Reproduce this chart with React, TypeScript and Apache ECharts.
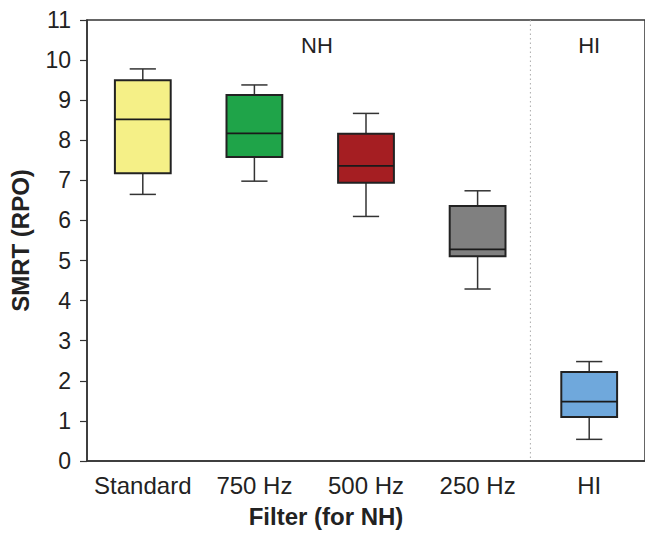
import React, { useEffect, useRef } from "react";
import * as echarts from "echarts";

const categories = ["Standard", "750 Hz", "500 Hz", "250 Hz", "HI"];
const whiskerLow = [6.65, 6.98, 6.1, 4.29, 0.54];
const quartile1 = [7.18, 7.58, 6.94, 5.11, 1.1];
const medians = [8.52, 8.17, 7.36, 5.28, 1.48];
const quartile3 = [9.5, 9.13, 8.16, 6.36, 2.22];
const whiskerHigh = [9.78, 9.38, 8.67, 6.74, 2.48];
const yTicks = [0, 1, 2, 3, 4, 5, 6, 7, 8, 9, 10, 11];

const boxColors = ["#f5f087", "#1fa449", "#a51e22", "#808080", "#6fa8dc"];
const FONT = "'Liberation Sans', Arial, Helvetica, sans-serif";

export default function App() {
  const ref = useRef<HTMLDivElement>(null);

  useEffect(() => {
    if (!ref.current) return;
    const chart = echarts.init(ref.current, null, { renderer: "svg" });
    const data = categories.map((c, i) => [
      i,
      whiskerLow[i],
      quartile1[i],
      medians[i],
      quartile3[i],
      whiskerHigh[i],
    ]);

    chart.setOption({
      animation: false,
      backgroundColor: "#ffffff",
      grid: {
        left: 82,
        top: 20,
        right: -3,
        bottom: 69,
        show: true,
        borderColor: "#333",
        borderWidth: 1.5,
      },
      xAxis: {
        type: "category",
        data: categories,
        boundaryGap: true,
        name: "Filter (for NH)",
        nameLocation: "middle",
        nameGap: 43,
        nameTextStyle: {
          fontFamily: FONT,
          fontSize: 24,
          fontWeight: "bold",
          color: "#222",
          padding: [0, 80, 0, 0],
        },
        axisLine: { lineStyle: { color: "#333", width: 1.5 } },
        axisTick: {
          alignWithLabel: true,
          inside: true,
          length: 6,
          interval: 0,
          lineStyle: { color: "#333", width: 1.2 },
        },
        axisLabel: {
          fontFamily: FONT,
          fontSize: 24,
          color: "#222",
          margin: 12,
          interval: 0,
        },
        splitLine: { show: false },
      },
      yAxis: {
        type: "value",
        min: 0,
        max: 11,
        interval: 1,
        name: "SMRT (RPO)",
        nameLocation: "middle",
        nameGap: 55,
        nameTextStyle: {
          fontFamily: FONT,
          fontSize: 24,
          fontWeight: "bold",
          color: "#222",
        },
        axisLine: { show: true, lineStyle: { color: "#333", width: 1.5 } },
        axisTick: { show: true, length: 7, lineStyle: { color: "#333", width: 1.2 } },
        axisLabel: {
          fontFamily: FONT,
          fontSize: 23,
          color: "#222",
          margin: 16,
          formatter: (v: number) => (yTicks.includes(v) ? String(v) : ""),
        },
        splitLine: { show: false },
      },
      series: [
        {
          type: "custom",
          data,
          encode: { x: 0, y: [1, 2, 3, 4, 5] },
          renderItem: (params: any, api: any) => {
            const idx = api.value(0);
            const pLo = api.coord([idx, api.value(1)]);
            const pQ1 = api.coord([idx, api.value(2)]);
            const pMed = api.coord([idx, api.value(3)]);
            const pQ3 = api.coord([idx, api.value(4)]);
            const pHi = api.coord([idx, api.value(5)]);
            const band = api.size([1, 0])[0];
            const boxW = band * 0.5;
            const capW = band * 0.235;
            const x = pLo[0];
            const wStyle = { stroke: "#333", lineWidth: 1.5 };
            return {
              type: "group",
              children: [
                { type: "line", shape: { x1: x, y1: pHi[1], x2: x, y2: pQ3[1] }, style: wStyle },
                { type: "line", shape: { x1: x, y1: pQ1[1], x2: x, y2: pLo[1] }, style: wStyle },
                { type: "line", shape: { x1: x - capW / 2, y1: pHi[1], x2: x + capW / 2, y2: pHi[1] }, style: wStyle },
                { type: "line", shape: { x1: x - capW / 2, y1: pLo[1], x2: x + capW / 2, y2: pLo[1] }, style: wStyle },
                {
                  type: "rect",
                  shape: { x: x - boxW / 2, y: pQ3[1], width: boxW, height: pQ1[1] - pQ3[1] },
                  style: { fill: boxColors[params.dataIndex], stroke: "#222", lineWidth: 2 },
                },
                {
                  type: "line",
                  shape: { x1: x - boxW / 2, y1: pMed[1], x2: x + boxW / 2, y2: pMed[1] },
                  style: { stroke: "#1a1a1a", lineWidth: 1.8 },
                },
              ],
            };
          },
        },
      ],
    });

    const p3 = chart.convertToPixel({ xAxisIndex: 0 }, 3) as number;
    const p4 = chart.convertToPixel({ xAxisIndex: 0 }, 4) as number;
    const top = chart.convertToPixel({ yAxisIndex: 0 }, 11) as number;
    const bottom = chart.convertToPixel({ yAxisIndex: 0 }, 0) as number;
    const divX = (p3 + p4) / 2 - 3;

    chart.setOption({
      graphic: [
        {
          type: "line",
          shape: { x1: divX, y1: top, x2: divX, y2: bottom },
          style: { stroke: "#aaa", lineWidth: 1, lineDash: [1.5, 3] },
          silent: true,
        },
        {
          type: "text",
          x: 317,
          y: 45,
          style: {
            text: "NH",
            font: `22px ${FONT}`,
            fill: "#222",
            textAlign: "center",
            textVerticalAlign: "middle",
          },
        },
        {
          type: "text",
          x: p4,
          y: 45,
          style: {
            text: "HI",
            font: `22px ${FONT}`,
            fill: "#222",
            textAlign: "center",
            textVerticalAlign: "middle",
          },
        },
      ],
    });

    return () => chart.dispose();
  }, []);

  return (
    <div
      ref={ref}
      style={{ position: "absolute", left: 0, top: 0, width: 645, height: 533 }}
    />
  );
}
